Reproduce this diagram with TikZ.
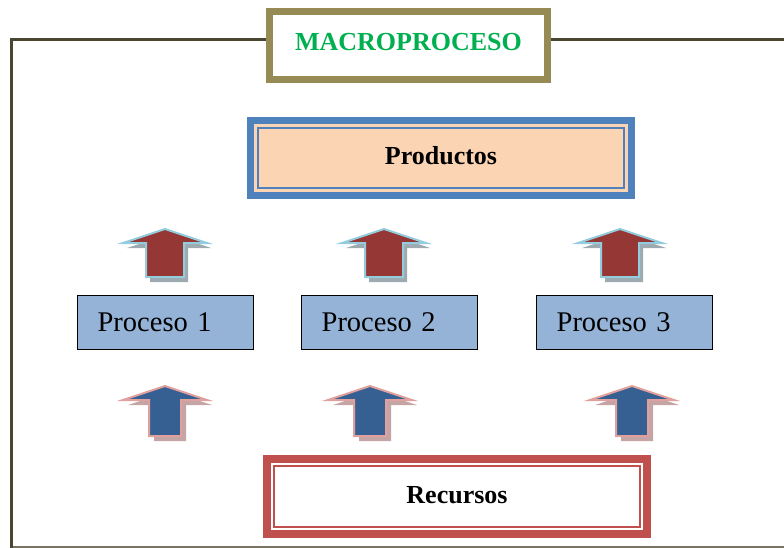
\documentclass[tikz,border=0pt]{standalone}
\usepackage{fontspec}
\setmainfont{Liberation Serif}
\usetikzlibrary{calc}

\definecolor{frameline}{HTML}{4B4630}
\definecolor{framebottom}{HTML}{77755F}
\definecolor{macroborder}{HTML}{968A55}
\definecolor{macrotext}{HTML}{00B050}
\definecolor{prodblue}{HTML}{4F81BD}
\definecolor{prodfill}{HTML}{FBD4B4}
\definecolor{recred}{HTML}{C0504D}
\definecolor{procfill}{HTML}{95B3D7}
\definecolor{upfill}{HTML}{953735}
\definecolor{upedge}{HTML}{93CDDD}
\definecolor{upshadow}{HTML}{9DAAB0}
\definecolor{dnfill}{HTML}{376092}
\definecolor{dnedge}{HTML}{E0A09E}
\definecolor{dnshadow}{HTML}{C4A4A4}

\tikzset{
  boldlabel/.style={font=\fontsize{26}{30}\selectfont\bfseries},
  titlebox/.style={draw=macroborder, line width=6.7pt, fill=white,
    minimum width=278.3pt, minimum height=68.3pt, inner sep=0pt,
    boldlabel, text=macrotext, text depth=8pt},
  outputbox/.style={draw=prodblue, line width=7pt, fill=prodfill,
    minimum width=381pt, minimum height=75pt, inner sep=0pt,
    boldlabel, text depth=5pt},
  inputbox/.style={draw=recred, line width=8pt, fill=white,
    minimum width=380pt, minimum height=75pt, inner sep=0pt,
    boldlabel, text depth=4pt},
  procbox/.style={draw=black, line width=1.3pt, fill=procfill,
    text width=135.7pt, inner xsep=20pt, inner ysep=0pt, align=left,
    minimum height=53.7pt,
    font=\fontsize{28.5}{32}\selectfont},
  % block arrow pointing up: red body, light blue edge, grey shadow
  outarrow/.pic={
    \fill[upshadow, shift={(4,5)}]
      (0,229) -- (42,243) -- (19,243) -- (19,277) -- (-19,277) -- (-19,243) -- (-42,243) -- cycle;
    \draw[upedge, line width=2pt, fill=upfill, line join=miter]
      (0,229) -- (42,243) -- (19,243) -- (19,277) -- (-19,277) -- (-19,243) -- (-42,243) -- cycle;
  },
  % block arrow pointing up: blue body, pink edge, pinkish shadow
  inarrow/.pic={
    \fill[dnshadow, shift={(5,5)}]
      (0,386) -- (42,400) -- (16,400) -- (16,436) -- (-16,436) -- (-16,400) -- (-42,400) -- cycle;
    \draw[dnedge, line width=2pt, fill=dnfill, line join=miter]
      (0,386) -- (42,400) -- (16,400) -- (16,436) -- (-16,436) -- (-16,400) -- (-42,400) -- cycle;
  },
}

\begin{document}
\begin{tikzpicture}[x=1pt, y=-1pt]
  \useasboundingbox (0,0) rectangle (784,548);

  % title box
  \node[titlebox] (macro) at (408.5,45.5) {MACROPROCESO};

  % outer frame
  \coordinate (tl) at (11.5,39.3);
  \coordinate (tr) at (784,39.3);
  \coordinate (bl) at (11.5,548);
  \coordinate (blb) at (11.5,546.8);
  \coordinate (brb) at (784,546.8);
  \draw[framebottom, line width=1.5pt] (blb) -- (brb);
  \draw[frameline, line width=3pt, line join=miter] (macro.west |- tl) -- (tl) -- (bl);
  \draw[frameline, line width=3pt] (macro.east |- tr) -- (tr);

  % products
  \node[outputbox] (prod) at (441,158) {Productos};
  \draw[prodblue, line width=2pt]
    ([shift={(11pt,-11pt)}]prod.north west) rectangle ([shift={(-11pt,11pt)}]prod.south east);

  % resources
  \node[inputbox] (rec) at (457,496.5) {Recursos};
  \draw[recred, line width=2pt]
    ([shift={(11pt,-11pt)}]rec.north west) rectangle ([shift={(-11pt,11pt)}]rec.south east);

  % processes
  \node[procbox] (p1) at (165.5,322.5) {Proceso 1};
  \node[procbox] (p2) at (389.5,322.5) {Proceso 2};
  \node[procbox] (p3) at (624.5,322.5) {Proceso 3};

  % arrows from processes to products
  \pic at (165,0) {outarrow};
  \pic at (384,0) {outarrow};
  \pic at (620,0) {outarrow};

  % arrows from resources to processes
  \pic at (165,0) {inarrow};
  \pic at (370,0) {inarrow};
  \pic at (632,0) {inarrow};
\end{tikzpicture}
\end{document}
